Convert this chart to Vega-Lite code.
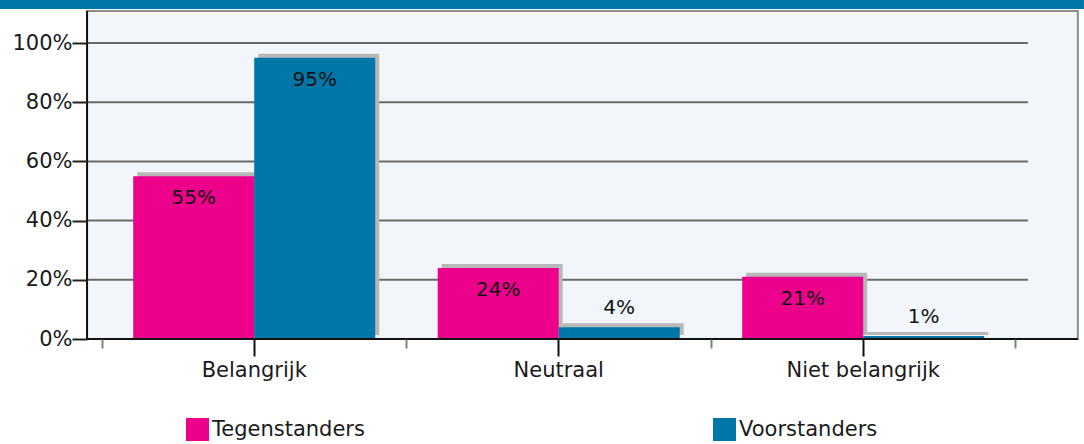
{
  "$schema": "https://vega.github.io/schema/vega-lite/v6.json",
  "padding": {"left": 0, "top": 0, "right": 0, "bottom": 105},
  "background": "white",
  "autosize": {"type": "none"},
  "width": 1084,
  "height": 339,
  "config": {"font": "DejaVu Sans", "view": {"stroke": null}},
  "data": {
    "values": [
      {"Categorie": "Belangrijk", "Groep": "Tegenstanders", "Waarde": 0.55},
      {"Categorie": "Belangrijk", "Groep": "Voorstanders", "Waarde": 0.95},
      {"Categorie": "Neutraal", "Groep": "Tegenstanders", "Waarde": 0.24},
      {"Categorie": "Neutraal", "Groep": "Voorstanders", "Waarde": 0.04},
      {"Categorie": "Niet belangrijk", "Groep": "Tegenstanders", "Waarde": 0.21},
      {"Categorie": "Niet belangrijk", "Groep": "Voorstanders", "Waarde": 0.01}
    ]
  },
  "resolve": {"axis": {"x": "independent"}, "scale": {"xOffset": "independent"}},
  "encoding": {
    "y": {
      "field": "Waarde",
      "type": "quantitative",
      "scale": {"domain": [0, 1.1453], "nice": false, "zero": true},
      "axis": {
        "values": [0, 0.2, 0.4, 0.6, 0.8, 1],
        "format": ".0%",
        "title": null,
        "grid": false,
        "domain": false,
        "offset": -87,
        "zindex": 1,
        "tickSize": 15,
        "tickColor": "#222222",
        "tickWidth": 2,
        "labelFontSize": 21,
        "labelColor": "#1a1a1a",
        "labelPadding": 0
      }
    }
  },
  "layer": [
    {
      "data": {"values": [{"Waarde": 1.1149, "Waarde2": 1.1453}]},
      "mark": {"type": "rect", "color": "#0077A8"},
      "encoding": {
        "x": {"datum": "Belangrijk", "type": "nominal", "bandPosition": -0.335, "axis": null,
              "scale": {"domain": ["Belangrijk", "Neutraal", "Niet belangrijk"], "paddingInner": 0, "paddingOuter": 0.28, "align": 0.598}},
        "x2": {"datum": "Niet belangrijk", "bandPosition": 1.225},
        "y2": {"field": "Waarde2"}
      }
    },
    {
      "data": {"values": [{"Waarde": 0, "Waarde2": 1.1081}]},
      "mark": {"type": "rect", "fill": "#F2F6FA", "stroke": "#8C8C8C", "strokeWidth": 2},
      "encoding": {
        "x": {"datum": "Belangrijk", "type": "nominal", "bandPosition": -0.049, "axis": null},
        "x2": {"datum": "Niet belangrijk", "bandPosition": 1.205},
        "y2": {"field": "Waarde2"}
      }
    },
    {
      "data": {"values": [{"Waarde": 0.2}, {"Waarde": 0.4}, {"Waarde": 0.6}, {"Waarde": 0.8}, {"Waarde": 1.0}]},
      "mark": {"type": "rule", "color": "#6A6A6A", "strokeWidth": 2},
      "encoding": {
        "x": {"datum": "Belangrijk", "type": "nominal", "bandPosition": -0.049, "axis": null},
        "x2": {"datum": "Niet belangrijk", "bandPosition": 1.041}
      }
    },
    {
      "mark": {"type": "bar", "color": "#B8B8B8", "yOffset": -4},
      "encoding": {
        "x": {
          "field": "Categorie",
          "type": "nominal",
          "axis": {"orient": "bottom", "tickBand": "extent", "labels": false, "domain": false, "ticks": true, "tickSize": 9, "tickColor": "#808080", "tickWidth": 2, "title": null, "grid": false, "zindex": 1}
        },
        "xOffset": {"field": "Groep", "type": "nominal", "scale": {"domain": ["Tegenstanders", "Voorstanders"], "paddingOuter": 0.258, "paddingInner": 0, "align": 0.564}}
      }
    },
    {
      "mark": {"type": "bar"},
      "encoding": {
        "x": {
          "field": "Categorie",
          "type": "nominal",
          "axis": {"orient": "bottom", "title": null, "labelAngle": 0, "domain": false, "tickSize": 17, "tickColor": "#111111", "tickWidth": 2, "labelFontSize": 21, "labelColor": "#1a1a1a", "labelPadding": 3, "grid": false, "zindex": 1}
        },
        "xOffset": {"field": "Groep", "type": "nominal", "scale": {"domain": ["Tegenstanders", "Voorstanders"], "paddingOuter": 0.258, "paddingInner": 0}},
        "color": {
          "field": "Groep",
          "type": "nominal",
          "scale": {"domain": ["Tegenstanders", "Voorstanders"], "range": ["#EC008C", "#0077A8"]},
          "legend": {
            "orient": "none",
            "legendX": 186,
            "legendY": 418,
            "direction": "horizontal",
            "columns": 2,
            "columnPadding": 348,
            "title": null,
            "symbolType": "square",
            "symbolSize": 529,
            "symbolStrokeWidth": 0,
            "symbolOpacity": 1,
            "labelFontSize": 21,
            "labelOffset": 3,
            "labelColor": "#1a1a1a",
            "padding": 0
          }
        }
      }
    },
    {
      "data": {"values": [{"Waarde": 0}]},
      "mark": {"type": "rule", "color": "#111111", "strokeWidth": 2},
      "encoding": {
        "x": {"datum": "Belangrijk", "type": "nominal", "bandPosition": -0.049, "axis": null},
        "x2": {"datum": "Niet belangrijk", "bandPosition": 1.205}
      }
    },
    {
      "data": {"values": [{"Waarde": 0, "Waarde2": 1.1081}]},
      "mark": {"type": "rule", "color": "#111111", "strokeWidth": 2},
      "encoding": {
        "x": {"datum": "Belangrijk", "type": "nominal", "bandPosition": -0.049, "axis": null},
        "y2": {"field": "Waarde2"}
      }
    },
    {
      "transform": [{"filter": "datum.Waarde >= 0.1"}],
      "mark": {"type": "text", "dy": 22, "fontSize": 20, "color": "#111111", "baseline": "middle"},
      "encoding": {
        "x": {"field": "Categorie", "type": "nominal", "axis": null},
        "xOffset": {"field": "Groep", "type": "nominal", "bandPosition": 0.5, "scale": {"type": "band", "domain": ["Tegenstanders", "Voorstanders"], "paddingOuter": 0.258, "paddingInner": 0}},
        "text": {"field": "Waarde", "type": "quantitative", "format": ".0%"}
      }
    },
    {
      "transform": [{"filter": "datum.Waarde < 0.1"}],
      "mark": {"type": "text", "dy": -19, "fontSize": 20, "color": "#111111", "baseline": "middle"},
      "encoding": {
        "x": {"field": "Categorie", "type": "nominal", "axis": null},
        "xOffset": {"field": "Groep", "type": "nominal", "bandPosition": 0.5, "scale": {"type": "band", "domain": ["Tegenstanders", "Voorstanders"], "paddingOuter": 0.258, "paddingInner": 0}},
        "text": {"field": "Waarde", "type": "quantitative", "format": ".0%"}
      }
    }
  ]
}
